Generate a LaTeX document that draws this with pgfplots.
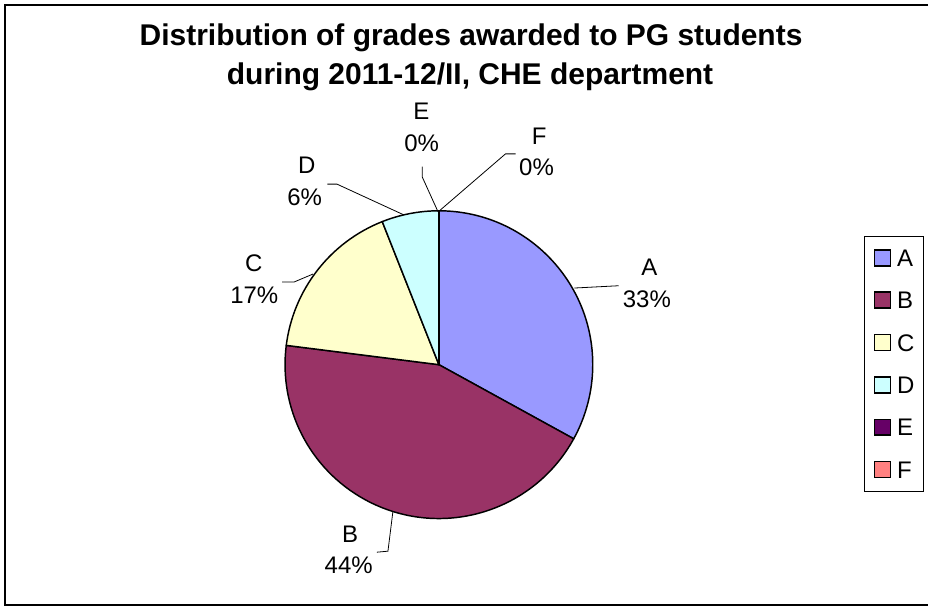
\documentclass[border=0pt]{standalone}
\usepackage{fontspec}
\setmainfont{Liberation Sans}
\usepackage{pgfplots}
\usepackage{pgfplotstable}
\pgfplotsset{compat=1.18}

\definecolor{gA}{HTML}{9999FF}
\definecolor{gB}{HTML}{993366}
\definecolor{gC}{HTML}{FFFFCC}
\definecolor{gD}{HTML}{CCFFFF}
\definecolor{gE}{HTML}{660066}
\definecolor{gF}{HTML}{FF8080}

% share of each grade, in per cent
\pgfplotstableread{
grade value
A 33
B 44
C 17
D 6
E 0
F 0
}\gradedata

\newcommand\lbl{\fontsize{18}{18}\selectfont}
\newcommand\ttl{\fontsize{22.5}{27}\selectfont\bfseries}

\begin{document}
\begin{tikzpicture}
% slice angles, clockwise from 12 o'clock
\pgfplotstablegetelem{0}{value}\of\gradedata \let\vA\pgfplotsretval
\pgfplotstablegetelem{1}{value}\of\gradedata \let\vB\pgfplotsretval
\pgfplotstablegetelem{2}{value}\of\gradedata \let\vC\pgfplotsretval
\pgfplotstablegetelem{3}{value}\of\gradedata \let\vD\pgfplotsretval
\pgfplotstablegetelem{4}{value}\of\gradedata \let\vE\pgfplotsretval
\pgfplotstablegetelem{5}{value}\of\gradedata \let\vF\pgfplotsretval
\pgfmathsetmacro\tot{\vA+\vB+\vC+\vD+\vE+\vF}
\pgfmathsetmacro\angA{90}
\pgfmathsetmacro\angB{\angA-360*\vA/\tot}
\pgfmathsetmacro\angC{\angB-360*\vB/\tot}
\pgfmathsetmacro\angD{\angC-360*\vC/\tot}
\pgfmathsetmacro\angE{\angD-360*\vD/\tot}
\pgfmathsetmacro\angF{\angE-360*\vE/\tot}
\pgfmathsetmacro\angG{\angF-360*\vF/\tot}
\pgfmathtruncatemacro\pA{round(100*\vA/\tot)}
\pgfmathtruncatemacro\pB{round(100*\vB/\tot)}
\pgfmathtruncatemacro\pC{round(100*\vC/\tot)}
\pgfmathtruncatemacro\pD{round(100*\vD/\tot)}
\pgfmathtruncatemacro\pE{round(100*\vE/\tot)}
\pgfmathtruncatemacro\pF{round(100*\vF/\tot)}

\begin{axis}[
    hide axis,
    scale only axis,
    width=696.75pt, height=455.25pt,
    xmin=0, xmax=929, ymin=0, ymax=607,
    clip=false,
    legend image code/.code={\draw[#1,line width=1.1pt] (0pt,-6pt) rectangle (12pt,6pt);},
    legend style={
        at={(axis description cs:0.9308,0.6112)}, anchor=north west,
        draw=black, line width=0.75pt, fill=white,
        font=\lbl,
        inner xsep=7pt, inner ysep=9.6pt,
        row sep=18.7pt, column sep=4.5pt,
        nodes={inner sep=0pt, text height=12.9pt, text depth=0pt},
    },
    legend cell align=left,
]
\addlegendimage{fill=gA,draw=black}\addlegendentry{A}
\addlegendimage{fill=gB,draw=black}\addlegendentry{B}
\addlegendimage{fill=gC,draw=black}\addlegendentry{C}
\addlegendimage{fill=gD,draw=black}\addlegendentry{D}
\addlegendimage{fill=gE,draw=black}\addlegendentry{E}
\addlegendimage{fill=gF,draw=black}\addlegendentry{F}

\path (axis cs:0,0) rectangle (axis cs:929,607);
% chart frame (right edge falls outside the picture)
\draw[line width=1.3pt] (axis cs:929,602) -- (axis cs:5,602) -- (axis cs:5,1.3) -- (axis cs:929,1.3);

% slices
\newcommand\slice[3]{\filldraw[fill=#1,draw=black,line width=1.1pt,line join=round]
    (axis cs:439.3,242) -- ++(#2:115.5pt) arc[start angle=#2,end angle=#3,radius=115.5pt] -- cycle;}
\slice{gA}{\angA}{\angB}
\slice{gB}{\angB}{\angC}
\slice{gC}{\angC}{\angD}
\slice{gD}{\angD}{\angE}
\slice{gE}{\angE}{\angF}
\slice{gF}{\angF}{\angG}

% leader lines
\draw[line width=0.6pt] (axis cs:575,318.7) -- (axis cs:619.3,321);
\draw[line width=0.6pt] (axis cs:393.3,95.3) -- (axis cs:388.3,55.3) -- (axis cs:377.3,54.3);
\draw[line width=0.6pt] (axis cs:313.3,332.7) -- (axis cs:294.3,324.7) -- (axis cs:282.3,324.7);
\draw[line width=0.6pt] (axis cs:404,392) -- (axis cs:337.3,422.7) -- (axis cs:327.7,422.7);
\draw[line width=0.6pt] (axis cs:438.3,395.3) -- (axis cs:422.7,429.7) -- (axis cs:422.7,440.3);
\draw[line width=0.6pt] (axis cs:439,395.3) -- (axis cs:506,453) -- (axis cs:516,453);

% data labels
\node[anchor=base,font=\lbl] at (axis cs:650,331) {A};
\node[anchor=base,font=\lbl] at (axis cs:647.5,299) {\pA\%};
\node[anchor=base,font=\lbl] at (axis cs:350.5,64.3) {B};
\node[anchor=base,font=\lbl] at (axis cs:349,33) {\pB\%};
\node[anchor=base,font=\lbl] at (axis cs:254,335.3) {C};
\node[anchor=base,font=\lbl] at (axis cs:254.5,303.7) {\pC\%};
\node[anchor=base,font=\lbl] at (axis cs:307,433) {D};
\node[anchor=base,font=\lbl] at (axis cs:305,401) {\pD\%};
\node[anchor=base,font=\lbl] at (axis cs:421.7,487) {E};
\node[anchor=base,font=\lbl] at (axis cs:422,455.3) {\pE\%};
\node[anchor=base,font=\lbl] at (axis cs:539.7,462.7) {F};
\node[anchor=base,font=\lbl] at (axis cs:537,431.3) {\pF\%};

% title
\node[anchor=base,font=\ttl] at (axis cs:471.5,561) {Distribution of grades awarded to PG students};
\node[anchor=base,font=\ttl] at (axis cs:470.5,522) {during 2011-12/II, CHE department};
\end{axis}
\end{tikzpicture}
\end{document}
